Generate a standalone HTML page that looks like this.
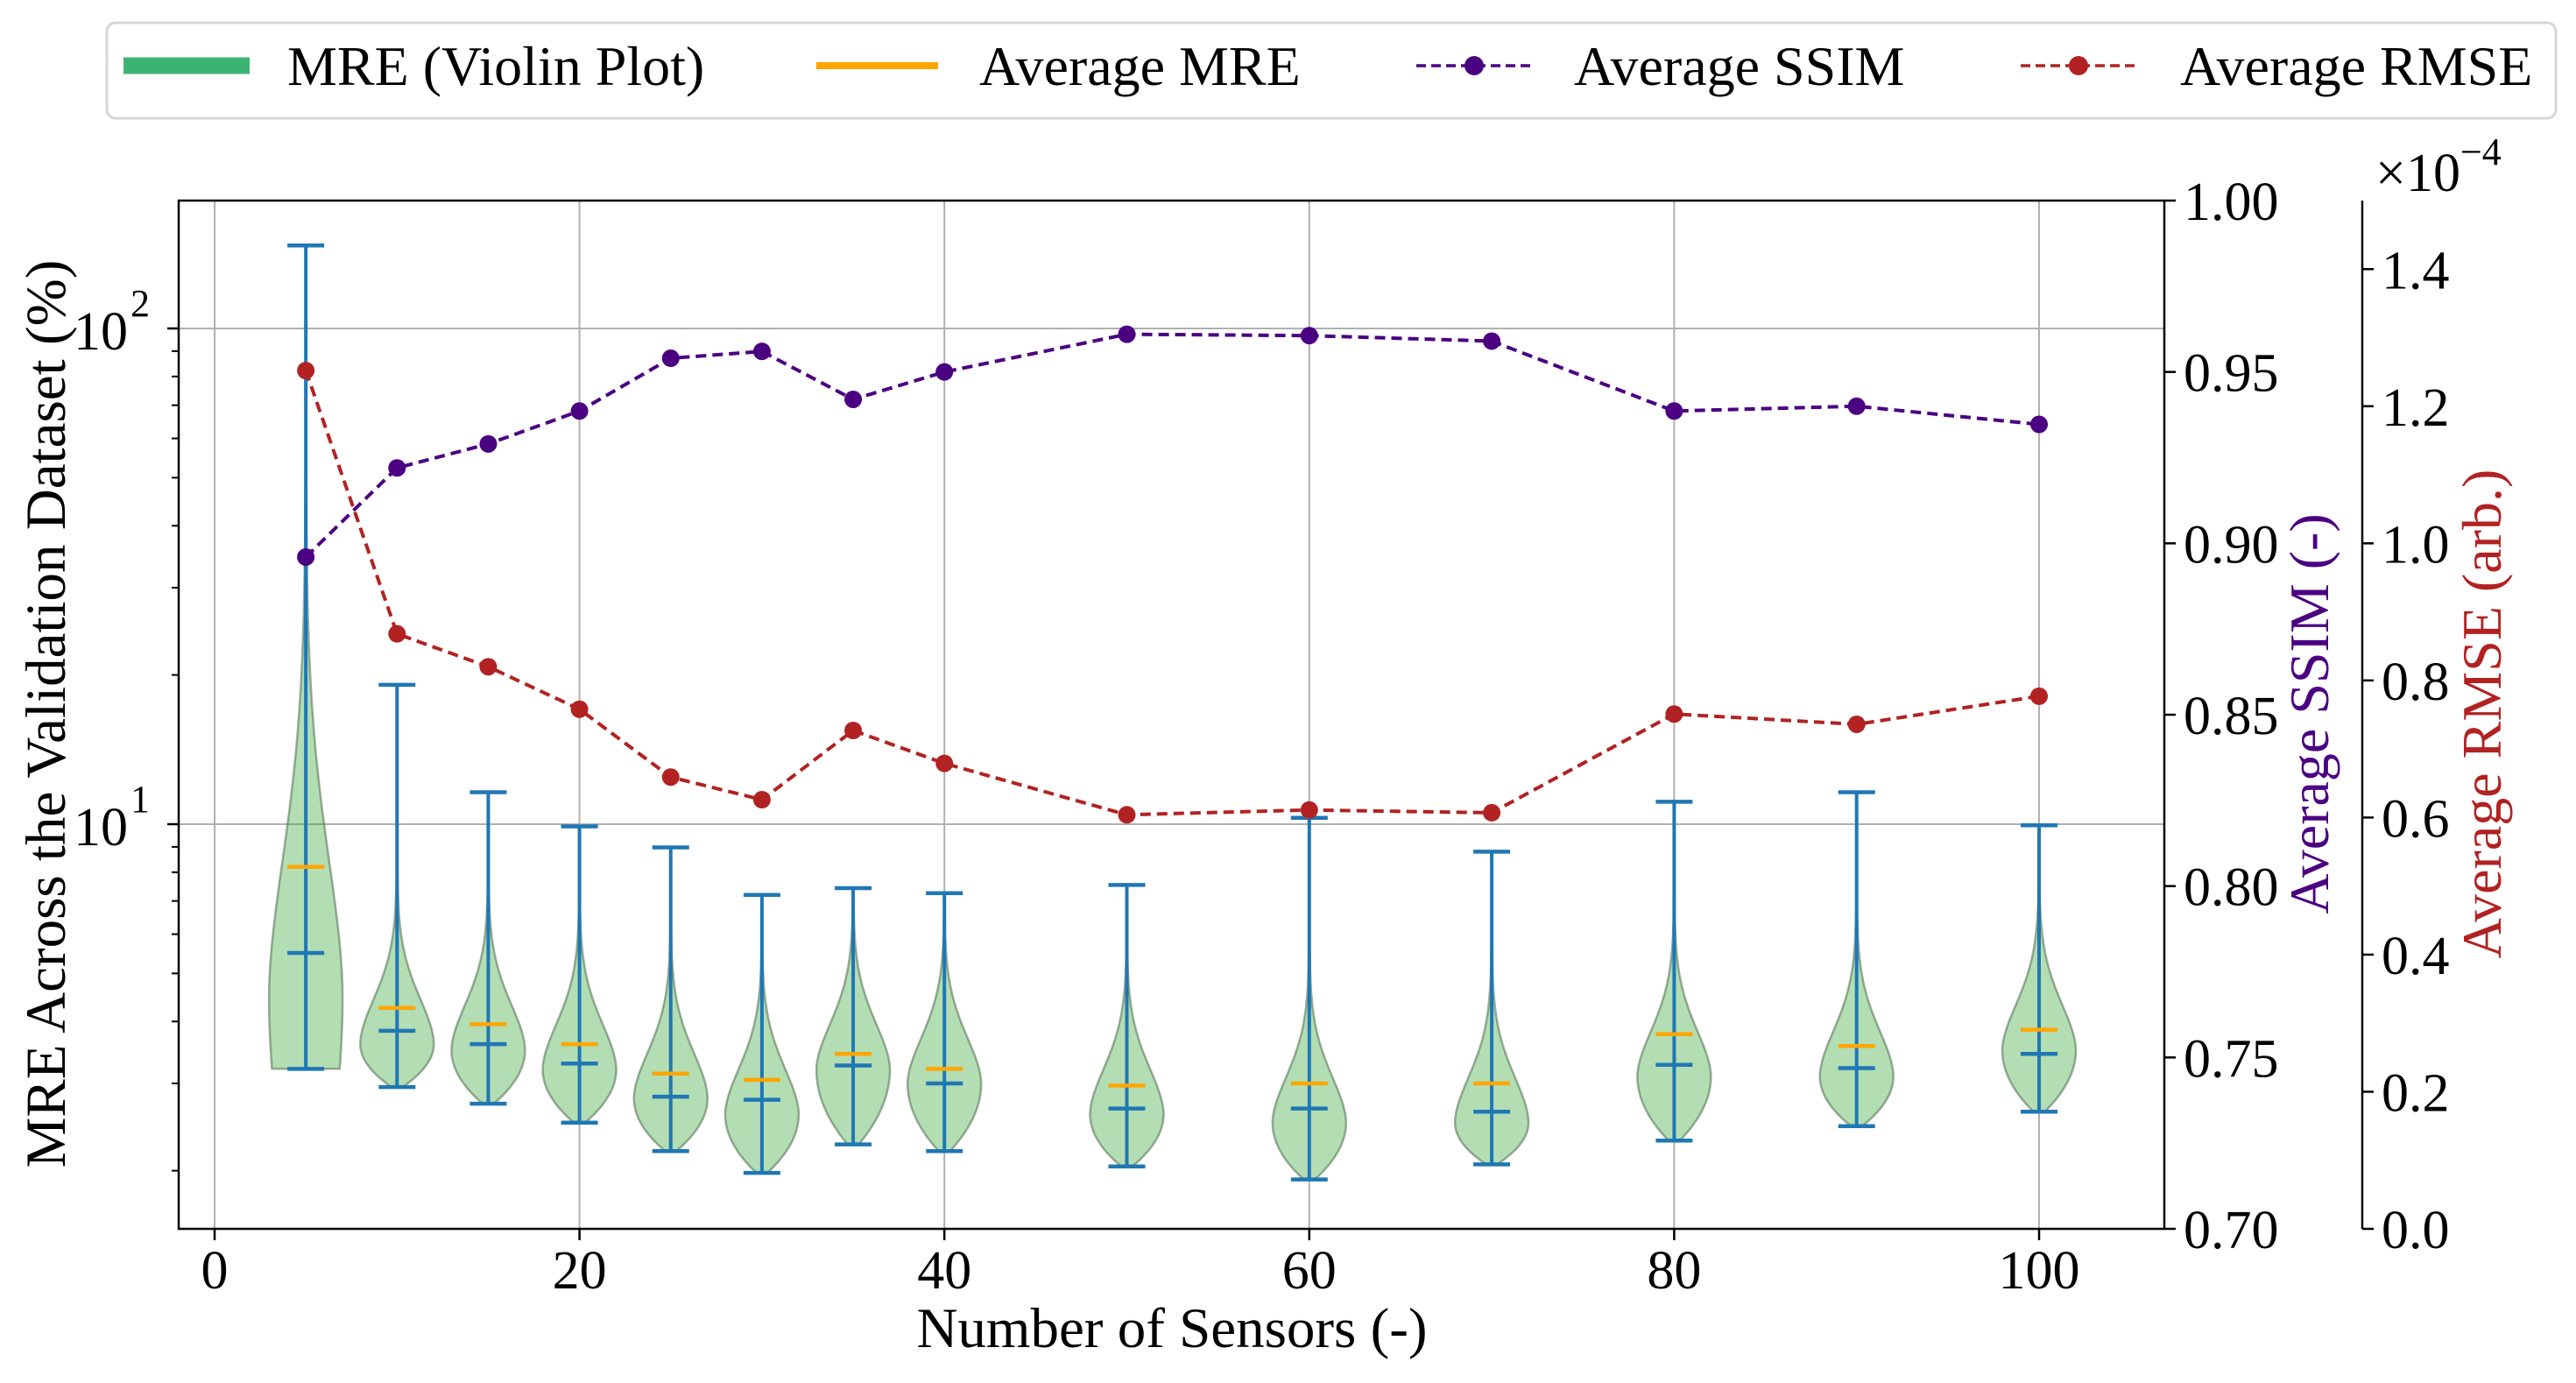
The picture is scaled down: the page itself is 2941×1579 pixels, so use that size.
<!DOCTYPE html>
<html><head><meta charset="utf-8"><style>
html,body{margin:0;padding:0;background:#fff}
svg{display:block}
text{font-family:"Liberation Serif","DejaVu Serif",serif;fill:#000}
</style></head><body>
<svg id="chart" xmlns="http://www.w3.org/2000/svg" width="2941" height="1579" viewBox="0 0 2941 1579">
<g id="grid"></g>
<g id="violins"></g>
<g id="lines"></g>
<g id="axes"></g>
<g id="legend">
<rect x="122" y="26" width="2796" height="109" rx="10" fill="#fff" stroke="#d6d6d6" stroke-width="3"/>
<g><line x1="141" y1="75" x2="285" y2="75" stroke="#3CB371" stroke-width="19"/><text x="328" y="97" font-size="64">MRE (Violin Plot)</text></g>
<g><line x1="932" y1="75" x2="1071" y2="75" stroke="#FFA500" stroke-width="8"/><text x="1118" y="97" font-size="64">Average MRE</text></g>
<g><line x1="1617" y1="75" x2="1748" y2="75" stroke="#4B0082" stroke-width="3.5" stroke-dasharray="11,6"/><circle cx="1683" cy="75" r="11" fill="#4B0082"/><text x="1797" y="97" font-size="64">Average SSIM</text></g>
<g><line x1="2307" y1="75" x2="2438" y2="75" stroke="#B22222" stroke-width="3.5" stroke-dasharray="11,6"/><circle cx="2373" cy="75" r="11" fill="#B22222"/><text x="2489" y="97" font-size="64">Average RMSE</text></g>
</g>
</svg>
<script>
const sensors=[5,10,15,20,25,30,35,40,50,60,70,80,90,100];
const ssim=[0.896,0.922,0.929,0.9386,0.954,0.956,0.942,0.950,0.961,0.9606,0.959,0.9386,0.940,0.9347];
const rmse=[1.252,0.868,0.820,0.758,0.659,0.626,0.727,0.679,0.604,0.611,0.607,0.751,0.736,0.777];
const mreMax=[147,19.1,11.6,9.9,8.98,7.2,7.43,7.26,7.54,10.3,8.8,11.1,11.6,9.95];
const mreMin=[3.21,2.95,2.73,2.5,2.19,1.98,2.26,2.19,2.04,1.92,2.06,2.3,2.46,2.63];
const mreMedian=[5.5,3.83,3.6,3.29,2.82,2.78,3.26,3.0,2.67,2.67,2.63,3.27,3.22,3.44];
const mreMean=[8.2,4.26,3.95,3.6,3.14,3.05,3.44,3.21,2.97,3.0,3.0,3.77,3.57,3.85];
const mreMode=[4.5,3.6,3.5,3.2,2.8,2.6,3.2,3.0,2.6,2.5,2.5,3.1,3.1,3.5];
const xTicks=[0,20,40,60,80,100];
const ssimTicks=["0.70","0.75","0.80","0.85","0.90","0.95","1.00"];
const rmseTicks=["0.0","0.2","0.4","0.6","0.8","1.0","1.2","1.4"];

const L=204,R=2471,T=229,B=1403;
const X=v=>245+v*20.83;
const Ylog=v=>941-(Math.log10(v)-1)*566;
const Ys=s=>B-(s-0.7)/0.3*(B-T);
const Yr=r=>B-r/1.5*(B-T);
const NS="http://www.w3.org/2000/svg";
function mk(tag,attrs,parent){const e=document.createElementNS(NS,tag);for(const k in attrs)e.setAttribute(k,attrs[k]);parent.appendChild(e);return e;}
const grid=document.getElementById('grid'),vg=document.getElementById('violins'),lg=document.getElementById('lines'),ax=document.getElementById('axes');

xTicks.forEach(t=>{const l=mk('line',{x1:X(t),x2:X(t),y1:T,y2:B,stroke:'#b0b0b0','stroke-width':2},grid);

});
[10,100].forEach(t=>{const l=mk('line',{x1:L,x2:R,y1:Ylog(t),y2:Ylog(t),stroke:'#b0b0b0','stroke-width':2},grid);

});

sensors.forEach((s,i)=>{
 const lo=Math.log10(mreMin[i]),hi=Math.log10(mreMax[i]),m=Math.log10(mreMode[i]);
 const bw=i===0?0.92:0.15, sc=i===0?0.42:0.14;
 const N=100,pts=[];
 for(let k=0;k<=N;k++){const u=lo+(hi-lo)*k/N;let w;
  if(u<=m){const f=(m-u)/Math.max(m-lo,1e-6);w=1-(1-bw)*f*f;}
  else{const d=(u-m)/sc;w=Math.exp(-Math.pow(d,1.8))*0.985+0.015*(1-(u-m)/(hi-m));}
  pts.push([u,w]);}
 const hw=42,cx=X(s);
 let d='M'+pts.map(p=>(cx+hw*p[1]).toFixed(1)+','+Ylog(Math.pow(10,p[0])).toFixed(1)).join(' L');
 d+=' L'+pts.slice().reverse().map(p=>(cx-hw*p[1]).toFixed(1)+','+Ylog(Math.pow(10,p[0])).toFixed(1)).join(' L')+'Z';
 const v=mk('path',{d:d,fill:'rgba(44,160,44,0.36)',stroke:'rgba(80,110,80,0.55)','stroke-width':2.5},vg);
 
 
 const g=mk('g',{},vg);
 
 
 mk('line',{x1:cx,x2:cx,y1:Ylog(mreMax[i]),y2:Ylog(mreMin[i]),stroke:'#1f77b4','stroke-width':4},g);
 [mreMax[i],mreMin[i],mreMedian[i]].forEach(v2=>mk('line',{x1:cx-21,x2:cx+21,y1:Ylog(v2),y2:Ylog(v2),stroke:'#1f77b4','stroke-width':4.5},g));
 const mm=mk('line',{x1:cx-21,x2:cx+21,y1:Ylog(mreMean[i]),y2:Ylog(mreMean[i]),stroke:'#FFA500','stroke-width':4.5},vg);
 
 
});

function series(vals,yf,col,name){
 const g=mk('g',{},lg);
 
 
 mk('polyline',{points:sensors.map((s,i)=>X(s)+','+yf(vals[i])).join(' '),fill:'none',stroke:col,'stroke-width':4,'stroke-dasharray':'12,7'},g);
 sensors.forEach((s,i)=>{const c=mk('circle',{cx:X(s),cy:yf(vals[i]),r:10,fill:col},g);
 
 });
}
series(ssim,Ys,'#4B0082','ssim-line');
series(rmse,Yr,'#B22222','rmse-line');

const fr=mk('rect',{x:L,y:T,width:R-L,height:B-T,fill:'none',stroke:'#000','stroke-width':2.5},ax);


xTicks.forEach(t=>{mk('line',{x1:X(t),x2:X(t),y1:B,y2:B+13,stroke:'#000','stroke-width':2.5},ax);
 const tx=mk('text',{x:X(t),y:1471,'font-size':62,'text-anchor':'middle'},ax);tx.textContent=t;
 
 });
[10,100].forEach((t,j)=>{mk('line',{x1:L-13,x2:L,y1:Ylog(t),y2:Ylog(t),stroke:'#000','stroke-width':2.5},ax);
 const tx=mk('text',{x:L-58,y:Ylog(t)+24,'font-size':62,'text-anchor':'end'},ax);tx.textContent='10';
 
 
 const sp=mk('text',{x:L-55,y:Ylog(t)-14,'font-size':44},ax);sp.textContent=String(j+1);
 
 });
[2,3,4,5,6,7,8,9,20,30,40,50,60,70,80,90,200].forEach(t=>{const y=Ylog(t);if(y>T&&y<B)mk('line',{x1:L-8,x2:L,y1:y,y2:y,stroke:'#000','stroke-width':2},ax);});
ssimTicks.forEach(t=>{const y=Ys(parseFloat(t));mk('line',{x1:R,x2:R+13,y1:y,y2:y,stroke:'#000','stroke-width':2.5},ax);
 const tx=mk('text',{x:R+22,y:y+22,'font-size':62},ax);tx.textContent=t;
 
 });
const RA=2697;
mk('line',{x1:RA,x2:RA,y1:T,y2:B,stroke:'#000','stroke-width':2.5},ax);
rmseTicks.forEach(t=>{const y=Yr(parseFloat(t));mk('line',{x1:RA,x2:RA+13,y1:y,y2:y,stroke:'#000','stroke-width':2.5},ax);
 const tx=mk('text',{x:RA+22,y:y+22,'font-size':62},ax);tx.textContent=t;
 
 });
</script>
<svg style="position:absolute;left:0;top:0" width="2941" height="1579">
<text x="1338" y="1538" font-size="65" text-anchor="middle" style="font-family:'Liberation Serif',serif">Number of Sensors (-)</text>
<text transform="translate(74,815) rotate(-90)" font-size="65" text-anchor="middle" style="font-family:'Liberation Serif',serif">MRE Across the Validation Dataset (%)</text>
<text transform="translate(2658,815) rotate(-90)" font-size="64" text-anchor="middle" style="font-family:'Liberation Serif',serif;fill:#4B0082">Average SSIM (-)</text>
<text transform="translate(2855,815) rotate(-90)" font-size="64" text-anchor="middle" style="font-family:'Liberation Serif',serif;fill:#B22222">Average RMSE (arb.)</text>
<text x="2712" y="218" font-size="62" style="font-family:'Liberation Serif',serif">×10<tspan dy="-30" font-size="44">−4</tspan></text>
</svg>
</body></html>
